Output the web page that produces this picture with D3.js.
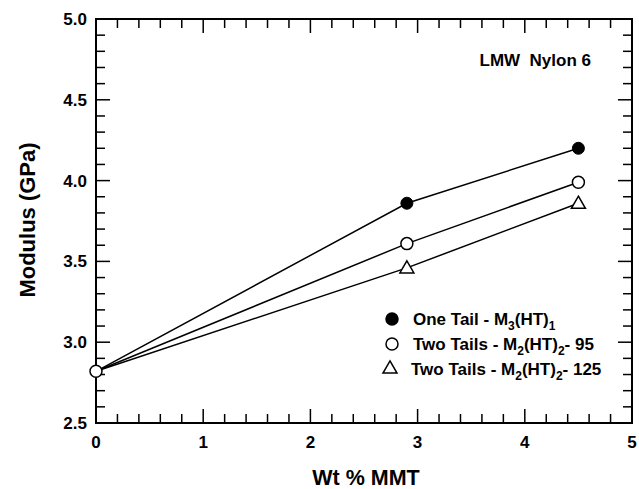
<!DOCTYPE html>
<html>
<head>
<meta charset="utf-8">
<script src="https://cdn.jsdelivr.net/npm/d3@7"></script>
<style>
  body { margin: 0; background: #fff; }
  svg text { font-family: "Liberation Sans", Arial, sans-serif; font-weight: bold; fill: #000; }
</style>
</head>
<body>
<svg id="chart" width="639" height="489"></svg>
<script>
// Modulus of LMW Nylon 6 nanocomposites vs. clay loading
const wtPct = [0, 2.9, 4.5];
const oneTail = [2.82, 3.86, 4.20];
const twoTails95 = [2.82, 3.61, 3.99];
const twoTails125 = [2.82, 3.46, 3.86];
const xTicks = [0, 1, 2, 3, 4, 5];
const yTicks = [2.5, 3.0, 3.5, 4.0, 4.5, 5.0];

const svg = d3.select("#chart");
const m = { left: 96, right: 632, top: 19, bottom: 423 };
const x = d3.scaleLinear().domain([0, 5]).range([m.left, m.right]);
const y = d3.scaleLinear().domain([2.5, 5.0]).range([m.bottom, m.top]);

const g = svg.append("g");

// frame
g.append("rect").attr("x", m.left).attr("y", m.top)
  .attr("width", m.right - m.left).attr("height", m.bottom - m.top)
  .attr("fill", "none").attr("stroke", "#000").attr("stroke-width", 2);

// inward ticks on all four sides
const xMinor = d3.range(0, 5.001, 0.2);
const yMinor = d3.range(2.5, 5.001, 0.1);
const isMajorX = v => Math.abs(v - Math.round(v)) < 1e-6;
const isMajorY = v => Math.abs(v * 2 - Math.round(v * 2)) < 1e-6;
const tk = g.append("g").attr("stroke", "#000").attr("stroke-width", 1.5);
xMinor.forEach(v => {
  const len = isMajorX(v) ? 14 : 9;
  tk.append("line").attr("x1", x(v)).attr("x2", x(v)).attr("y1", m.bottom).attr("y2", m.bottom - len);
  tk.append("line").attr("x1", x(v)).attr("x2", x(v)).attr("y1", m.top).attr("y2", m.top + len);
});
yMinor.forEach(v => {
  const len = isMajorY(v) ? 14 : 9;
  tk.append("line").attr("y1", y(v)).attr("y2", y(v)).attr("x1", m.left).attr("x2", m.left + len);
  tk.append("line").attr("y1", y(v)).attr("y2", y(v)).attr("x1", m.right).attr("x2", m.right - len);
});

// tick labels
g.selectAll(".xl").data(xTicks).enter().append("text")
  .attr("x", d => x(d)).attr("y", 448)
  .attr("text-anchor", "middle").attr("font-size", 17).text(d => d);
g.selectAll(".yl").data(yTicks).enter().append("text")
  .attr("x", 87).attr("y", d => y(d) + 6)
  .attr("text-anchor", "end").attr("font-size", 17).text(d => d.toFixed(1));

// axis titles
g.append("text").attr("x", 366).attr("y", 485)
  .attr("text-anchor", "middle").attr("font-size", 21.5).text("Wt % MMT");
g.append("text").attr("transform", "translate(35,220) rotate(-90)")
  .attr("text-anchor", "middle").attr("font-size", 22).text("Modulus (GPa)");

g.append("text").attr("x", 591).attr("y", 66).attr("text-anchor", "end")
  .attr("font-size", 17).attr("xml:space", "preserve").text("LMW  Nylon 6");

// series lines
const line = d3.line().x((d, i) => x(wtPct[i])).y(d => y(d));
[twoTails125, twoTails95, oneTail].forEach(s => {
  g.append("path").datum(s).attr("d", line)
    .attr("fill", "none").attr("stroke", "#000").attr("stroke-width", 1.5);
});

// markers
const tri = d3.symbol().type(d3.symbolTriangle).size(85);
twoTails125.forEach((v, i) => {
  if (i === 0) return;
  g.append("path").attr("d", tri).attr("transform", `translate(${x(wtPct[i])},${y(v) + 1})`)
    .attr("fill", "#fff").attr("stroke", "#000").attr("stroke-width", 1.5);
});
oneTail.forEach((v, i) => {
  if (i === 0) return;
  g.append("circle").attr("cx", x(wtPct[i])).attr("cy", y(v)).attr("r", 6)
    .attr("fill", "#000").attr("stroke", "#000");
});
twoTails95.forEach((v, i) => {
  g.append("circle").attr("cx", x(wtPct[i])).attr("cy", y(v)).attr("r", 6)
    .attr("fill", "#fff").attr("stroke", "#000").attr("stroke-width", 1.5);
});

// legend
const lg = g.append("g");
const rows = [
  { kind: "filled", y: 319, tx: 413, parts: [["One Tail - M"], ["3", "sub"], ["(HT)"], ["1", "sub"]] },
  { kind: "open", y: 344, tx: 413, parts: [["Two Tails - M"], ["2", "sub"], ["(HT)"], ["2", "sub"], ["- 95"]] },
  { kind: "tri", y: 369, tx: 411, parts: [["Two Tails - M"], ["2", "sub"], ["(HT)"], ["2", "sub"], ["- 125"]] }
];
rows.forEach((r, k) => {
  const mx = k === 2 ? 390 : 392;
  if (r.kind === "tri") {
    lg.append("path").attr("d", tri).attr("transform", `translate(${mx},${r.y})`)
      .attr("fill", "#fff").attr("stroke", "#000").attr("stroke-width", 1.5);
  } else {
    lg.append("circle").attr("cx", mx).attr("cy", r.y).attr("r", 6)
      .attr("fill", r.kind === "filled" ? "#000" : "#fff").attr("stroke", "#000").attr("stroke-width", 1.5);
  }
  const t = lg.append("text").attr("x", r.tx).attr("y", r.y + 6).attr("font-size", 17);
  r.parts.forEach((p, j) => {
    const ts = t.append("tspan").text(p[0]);
    if (p[1] === "sub") ts.attr("font-size", 12).attr("dy", 5);
    else if (j > 0) ts.attr("dy", -5);
  });
});
</script>
</body>
</html>
